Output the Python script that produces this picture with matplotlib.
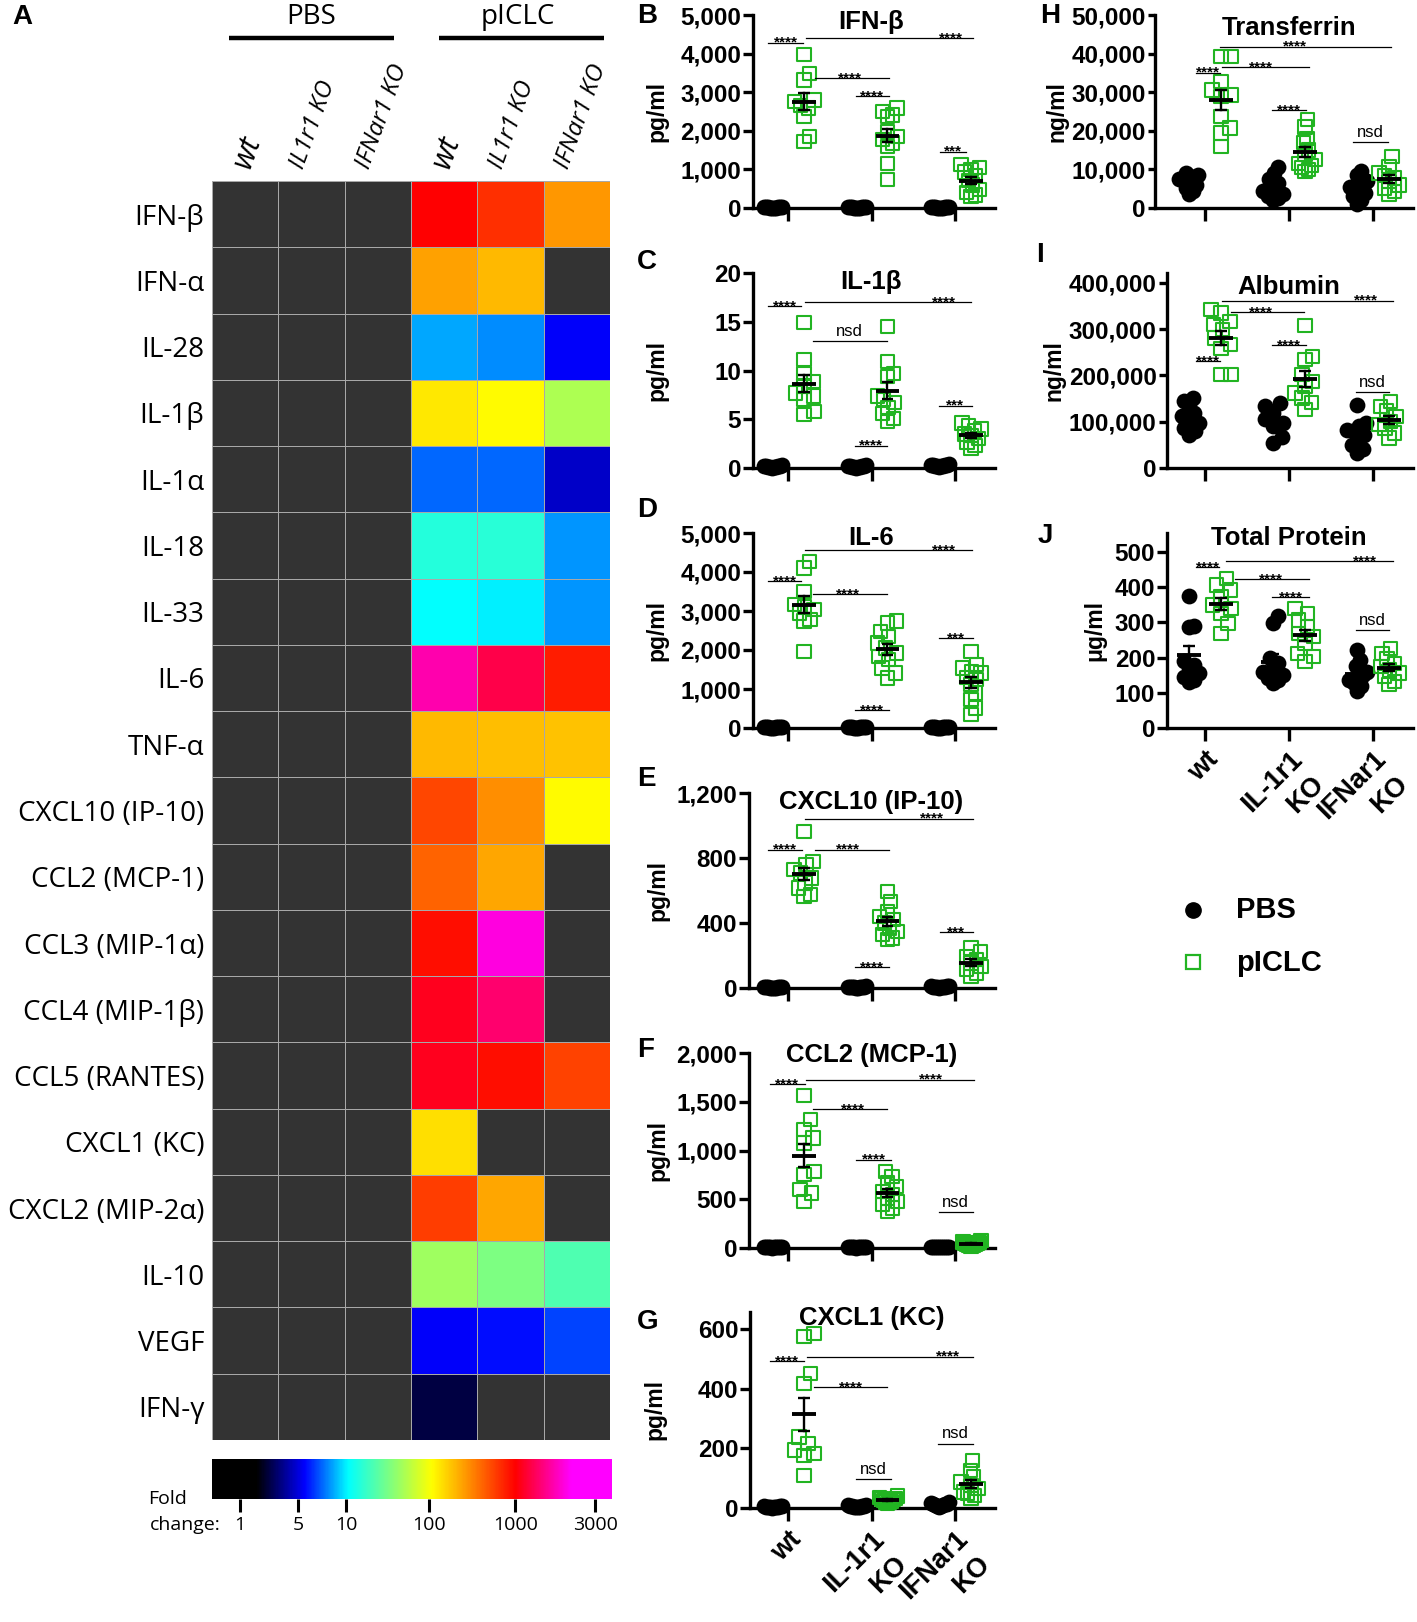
import numpy as np
import matplotlib
matplotlib.use("Agg")
import matplotlib.pyplot as plt
from matplotlib.colors import LinearSegmentedColormap

# ---------------- Panel A: heatmap data (fold change vs PBS) ----------------
cytokines = ['IFN-β', 'IFN-α', 'IL-28', 'IL-1β', 'IL-1α', 'IL-18', 'IL-33', 'IL-6',
             'TNF-α', 'CXCL10 (IP-10)', 'CCL2 (MCP-1)', 'CCL3 (MIP-1α)',
             'CCL4 (MIP-1β)', 'CCL5 (RANTES)', 'CXCL1 (KC)', 'CXCL2 (MIP-2α)',
             'IL-10', 'VEGF', 'IFN-γ']
heat_columns = ['wt', 'IL1r1 KO', 'IFNar1 KO', 'wt', 'IL1r1 KO', 'IFNar1 KO']
heat_groups = ['PBS', 'pICLC']
fold_pbs_wt = [1, 1, 1, 1, 1, 1, 1, 1, 1, 1, 1, 1, 1, 1, 1, 1, 1, 1, 1]
fold_pbs_il1r1 = [1, 1, 1, 1, 1, 1, 1, 1, 1, 1, 1, 1, 1, 1, 1, 1, 1, 1, 1]
fold_pbs_ifnar1 = [1, 1, 1, 1, 1, 1, 1, 1, 1, 1, 1, 1, 1, 1, 1, 1, 1, 1, 1]
fold_piclc_wt = [1000, 250, 8.3, 130, 7.0, 14.3, 10.5, 1690, 200, 540, 420, 910,
                 1090, 1100, 142, 590, 45, 5.45, 2.24]
fold_piclc_il1r1 = [680, 200, 7.8, 110, 7.0, 15.4, 9.9, 1240, 190, 290, 236, 1970,
                    1380, 900, 1, 236, 33.5, 5.7, 1]
fold_piclc_ifnar1 = [270, 1, 5.45, 52, 4.5, 7.9, 7.9, 800, 185, 112, 1, 1,
                     1, 560, 1, 1, 21.7, 6.4, 1]
cbar_ticks = [1, 5, 10, 100, 1000, 3000]
# non-uniform colour scale: log10(fold) -> position along the colour bar
scale_logfold = [0, 0.699, 1, 2, 3, 3.477]
scale_pos = [0.069, 0.215, 0.336, 0.543, 0.758, 0.958]
cmap_stops = [(0.0, '#000000'), (0.11, '#000000'), (0.23, '#0000ff'), (0.34, '#00ffff'),
              (0.55, '#ffff00'), (0.76, '#ff0000'), (0.90, '#ff00ff'), (1.0, '#ff00ff')]

# ---------------- Panels B-J: scatter data ----------------
groups = ['wt', 'IL-1r1\nKO', 'IFNar1\nKO']

ifnb_pbs = [[12, 18, 25, 8, 30, 15, 20, 10, 22, 5], [10, 15, 22, 8, 28, 18, 12, 20, 5, 25],
            [15, 20, 10, 25, 8, 18, 12, 30, 22, 5]]
ifnb_piclc = [[3970, 3490, 3320, 2800, 2760, 2650, 2590, 2370, 1850, 1720],
              [2590, 2500, 2410, 2370, 1980, 1850, 1770, 1680, 1600, 1160, 730],
              [1120, 1050, 1000, 930, 850, 720, 600, 480, 400, 340, 300]]

il1b_pbs = [[0.10, 0.20, 0.15, 0.05, 0.25, 0.10, 0.20, 0.30, 0.12, 0.18],
            [0.10, 0.15, 0.22, 0.08, 0.28, 0.18, 0.12, 0.20, 0.05, 0.25],
            [0.20, 0.30, 0.25, 0.35, 0.15, 0.40, 0.22, 0.30, 0.28, 0.18]]
il1b_piclc = [[14.9, 11.1, 9.7, 8.9, 8.4, 7.7, 7.4, 7.0, 5.8, 5.5],
              [14.5, 10.9, 9.7, 9.4, 7.4, 7.0, 6.7, 6.2, 5.6, 5.1, 4.8],
              [4.6, 4.3, 4.0, 3.8, 3.5, 3.3, 3.0, 2.6, 2.3, 2.0]]

il6_pbs = [[10, 20, 15, 30, 25, 12, 18, 22, 8, 28], [12, 25, 18, 30, 10, 22, 15, 28, 20, 8],
           [15, 22, 10, 30, 18, 25, 12, 20, 28, 8]]
il6_piclc = [[4270, 4100, 3500, 3160, 3120, 3030, 2950, 2780, 2740, 1970],
             [2740, 2690, 2480, 2350, 2180, 2050, 1920, 1840, 1750, 1540, 1410, 1280],
             [1970, 1620, 1540, 1450, 1410, 1300, 1240, 1110, 900, 730, 510, 340]]

cxcl10_pbs = [[2, 5, 3, 8, 4, 6, 1, 7, 3, 5], [3, 6, 8, 4, 10, 5, 7, 2, 9, 6],
              [4, 8, 6, 10, 5, 12, 3, 9, 7, 11]]
cxcl10_piclc = [[964, 780, 759, 728, 708, 677, 646, 615, 574, 564],
                [595, 533, 472, 441, 421, 400, 369, 349, 328, 308, 297],
                [246, 226, 195, 174, 154, 133, 113, 92, 72]]

ccl2_pbs = [[5, 10, 8, 15, 12, 6, 9, 14, 7, 11], [6, 12, 9, 15, 8, 11, 7, 14, 10, 5],
            [8, 14, 6, 12, 10, 15, 7, 11, 9, 13]]
ccl2_piclc = [[1562, 1316, 1214, 1128, 1077, 786, 752, 598, 564, 479],
              [786, 735, 667, 632, 581, 547, 513, 479, 444, 410, 376],
              [75, 62, 55, 50, 45, 40, 35, 30, 25, 20]]

cxcl1_pbs = [[2, 5, 3, 8, 4, 6, 1, 7, 3, 5], [3, 6, 8, 4, 10, 5, 7, 2, 9, 6],
             [5, 10, 15, 8, 12, 20, 6, 18, 9, 14]]
cxcl1_piclc = [[585, 574, 451, 418, 238, 216, 194, 182, 177, 110],
               [40, 35, 32, 30, 28, 25, 22, 20, 18, 15],
               [160, 126, 104, 87, 76, 65, 54, 48, 43, 31]]

transferrin_pbs = [[9000, 8500, 8000, 7600, 7200, 6800, 6000, 5200, 4500, 3500],
                   [10500, 9000, 7500, 6500, 5500, 4500, 3500, 3000, 2500, 2200],
                   [9500, 8500, 7000, 6000, 5500, 5000, 4000, 3000, 2000, 1000]]
transferrin_piclc = [[39200, 39200, 32800, 30600, 29300, 28900, 23700, 20700, 19400, 15900],
                     [23000, 21000, 18000, 17000, 15000, 14000, 12500, 11500, 11000, 10500, 10000, 9500],
                     [13400, 10800, 9100, 8500, 7800, 6900, 6000, 5200, 4300, 3500]]

albumin_pbs = [[151000, 144000, 133000, 119000, 112000, 105000, 97000, 86000, 79000, 72000],
               [140000, 133000, 119000, 105000, 97000, 90000, 68000, 55000],
               [137000, 97000, 90000, 83000, 79000, 72000, 61000, 50000, 40000, 32000]]
albumin_piclc = [[342000, 335000, 317000, 310000, 299000, 281000, 267000, 259000, 202000, 202000],
                 [308000, 241000, 234000, 202000, 187000, 177000, 162000, 151000, 141000, 126000],
                 [144000, 133000, 123000, 112000, 101000, 94000, 86000, 76000, 65000]]

protein_pbs = [[375, 290, 288, 189, 179, 170, 156, 146, 137, 132],
               [318, 297, 198, 184, 170, 160, 151, 142, 137, 127],
               [222, 193, 175, 160, 151, 142, 137, 127, 118, 104]]
protein_piclc = [[425, 406, 392, 373, 349, 340, 325, 297, 269],
                 [340, 325, 307, 288, 269, 259, 241, 212, 203, 189],
                 [226, 212, 198, 184, 175, 165, 156, 146, 132, 123]]

# significance annotations: (x_start, x_end, y, label, label_x or None=centre)
ifnb_sig = [(-0.24, 0.18, 4280, '****', None), (0.22, 2.21, 4400, '****', 1.95),
            (0.32, 1.21, 3360, '****', 0.74), (0.81, 1.21, 2900, '****', None),
            (1.82, 2.13, 1460, '***', None)]
il1b_sig = [(-0.24, 0.16, 16.6, '****', None), (0.20, 2.19, 17.0, '****', 1.87),
            (0.30, 1.19, 13.0, 'nsd', 0.74), (0.80, 1.19, 2.3, '****', None),
            (1.81, 2.20, 6.4, '***', None)]
il6_sig = [(-0.24, 0.16, 3760, '****', None), (0.20, 2.20, 4560, '****', 1.87),
           (0.30, 1.19, 3440, '****', 0.72), (0.80, 1.21, 450, '****', None),
           (1.81, 2.21, 2310, '***', None)]
cxcl10_sig = [(-0.24, 0.17, 851, '****', None), (0.20, 2.21, 1042, '****', 1.72),
              (0.32, 1.21, 851, '****', 0.72), (0.80, 1.21, 129, '****', None),
              (1.82, 2.21, 345, '***', None)]
ccl2_sig = [(-0.22, 0.20, 1682, '****', None), (0.22, 2.23, 1726, '****', 1.71),
            (0.30, 1.19, 1426, '****', 0.78), (0.82, 1.23, 906, '****', None),
            (1.81, 2.21, 366, 'nsd', None)]
cxcl1_sig = [(-0.215, 0.195, 493, '****', None), (0.23, 2.22, 507, '****', 1.91),
             (0.31, 1.19, 406, '****', 0.76), (0.82, 1.23, 96, 'nsd', None),
             (1.80, 2.21, 216, 'nsd', None)]
transferrin_sig = [(-0.11, 0.18, 35100, '****', None), (0.18, 2.22, 41800, '****', 1.07),
                   (0.20, 1.24, 36500, '****', 0.67), (0.80, 1.20, 25400, '****', None),
                   (1.76, 2.18, 17200, 'nsd', None)]
albumin_sig = [(-0.11, 0.18, 230600, '****', None), (0.20, 2.24, 361800, '****', 1.92),
               (0.31, 1.18, 336600, '****', 0.67), (0.80, 1.20, 265200, '****', None),
               (1.80, 2.19, 163600, 'nsd', None)]
protein_sig = [(-0.11, 0.17, 456, '****', None), (0.25, 2.24, 474, '****', 1.90),
               (0.36, 1.24, 422, '****', 0.78), (0.80, 1.24, 371, '****', None),
               (1.80, 2.19, 278, 'nsd', None)]

# ---------------- figure set-up ----------------
W, H = 1417, 1622
plt.rcParams['font.family'] = ['Liberation Sans', 'DejaVu Sans']
fig = plt.figure(figsize=(W / 100, H / 100), dpi=100)
HEAT_FONT = ['Open Sans', 'DejaVu Sans']
GREEN = '#22b422'


def px_rect(x0, y0, x1, y1):
    return [x0 / W, 1 - y1 / H, (x1 - x0) / W, (y1 - y0) / H]


def fold_to_pos(v):
    return np.interp(np.log10(v), scale_logfold, scale_pos)


# overlay axes in pixel coordinates for free text / header lines
ov = fig.add_axes([0, 0, 1, 1])
ov.set_xlim(0, W)
ov.set_ylim(H, 0)
ov.axis('off')

# ---------------- Panel A ----------------
cmap = LinearSegmentedColormap.from_list('fold', cmap_stops)
cmap.set_bad('#333333')
fold = np.array([fold_pbs_wt, fold_pbs_il1r1, fold_pbs_ifnar1,
                 fold_piclc_wt, fold_piclc_il1r1, fold_piclc_ifnar1], float).T
pos = np.ma.masked_where(fold <= 1, fold_to_pos(fold))
axh = fig.add_axes(px_rect(212, 181, 610, 1440))
axh.pcolormesh(pos, cmap=cmap, vmin=0, vmax=1, edgecolors='#a8a8a8', linewidth=0.7)
axh.set_xlim(0, 6)
axh.set_ylim(len(cytokines), 0)
axh.set_yticks(np.arange(len(cytokines)) + 0.5)
axh.set_yticklabels(cytokines, fontfamily=HEAT_FONT, fontsize=20)
axh.set_xticks([])
axh.tick_params(left=False, pad=2)
for s in axh.spines.values():
    s.set_visible(False)
for j, lab in enumerate(heat_columns):
    axh.text(j + (0.45 if lab == 'wt' else 0.28), -0.2, lab, rotation=70, rotation_mode='anchor',
             ha='left', va='center', style='italic', fontsize=22 if lab == 'wt' else 17.5,
             family=HEAT_FONT, clip_on=False)

ov.text(311, 17, heat_groups[0], ha='center', va='center', fontsize=20, family=HEAT_FONT)
ov.text(518, 17, heat_groups[1], ha='center', va='center', fontsize=20, family=HEAT_FONT)
ov.plot([229, 394], [38, 38], color='k', lw=3.2, solid_capstyle='butt')
ov.plot([439, 604], [38, 38], color='k', lw=3.2, solid_capstyle='butt')
ov.text(12, 17, 'A', ha='left', va='center', fontsize=20, fontweight='bold')

# colour bar
axc = fig.add_axes(px_rect(212, 1459, 612, 1499))
axc.imshow(np.linspace(0, 1, 600)[None, :], cmap=cmap, aspect='auto', extent=(0, 1, 0, 1),
           interpolation='bilinear')
axc.set_xlim(0, 1)
axc.set_yticks([])
axc.set_xticks(fold_to_pos(np.array(cbar_ticks, float)))
axc.set_xticklabels([str(t) for t in cbar_ticks], fontfamily=HEAT_FONT, fontsize=14)
axc.tick_params(axis='x', length=9, width=2.2, pad=3)
for s in axc.spines.values():
    s.set_visible(False)
ov.text(168, 1499, 'Fold', ha='center', va='center', fontsize=14, family=HEAT_FONT)
ov.text(221, 1525, 'change:', ha='right', va='center', fontsize=14, family=HEAT_FONT)


# ---------------- scatter panels ----------------
def swarm(vals, px_per_val, diam=12.5, max_half=10.0):
    y = np.asarray(vals, float) * px_per_val
    order = np.argsort(y)
    cands = [0.0]
    for k in np.arange(0.5, 80, 0.5):
        cands += [k, -k]
    placed = []
    offs = np.zeros(len(y))
    for i in order:
        chosen = 0.0
        for c in cands:
            if all((c - px) ** 2 + (y[i] - py) ** 2 >= diam ** 2 for px, py in placed):
                chosen = c
                break
        offs[i] = chosen
        placed.append((chosen, y[i]))
    m = np.abs(offs).max()
    if m > max_half:
        offs *= max_half / m
    return offs


def draw_panel(letter, letter_xy, spine_x, top_y, zero_y, tick0_x, spacing, right_x,
               ymax, yticks, title, title_y, ylabel, ylab_x, pbs, piclc, sigs, xlabels,
               ytick_len=7):
    ax = fig.add_axes(px_rect(spine_x, top_y, right_x, zero_y))
    ax.patch.set_visible(False)
    ax.set_xlim((spine_x - tick0_x) / spacing, (right_x - tick0_x) / spacing)
    ax.set_ylim(0, ymax)
    px_per_val = (zero_y - top_y) / ymax
    for side in ('top', 'right'):
        ax.spines[side].set_visible(False)
    for side in ('left', 'bottom'):
        ax.spines[side].set_linewidth(2.4)
    ax.set_yticks(yticks)
    ax.set_yticklabels([f'{v:,}' for v in yticks], fontsize=17.5, fontweight='bold')
    ax.tick_params(axis='y', length=ytick_len, width=2.4, pad=1.5)
    ax.set_xticks([0, 1, 2])
    ax.tick_params(axis='x', length=9, width=2.4, pad=4)
    if xlabels:
        first = [g.split('\n')[0] for g in groups]
        ax.set_xticklabels(first, rotation=45, ha='right', va='top', rotation_mode='anchor',
                           fontsize=19.5, fontweight='bold')
        for gi, g in enumerate(groups):
            parts = g.split('\n')
            if len(parts) > 1:
                ax.annotate(parts[1], xy=(gi, 0), xycoords=('data', 'axes fraction'),
                            xytext=(16, -31), textcoords='offset points', rotation=45,
                            rotation_mode='anchor', ha='right', va='top', fontsize=19.5,
                            fontweight='bold', annotation_clip=False)
    else:
        ax.set_xticklabels([])
    ax.set_ylabel(ylabel, fontsize=16.5, fontweight='bold', va='center')
    ax.yaxis.set_label_coords((ylab_x - spine_x) / (right_x - spine_x), 0.5)
    ax.text(1, (zero_y - title_y) / px_per_val, title, ha='center', va='center',
            fontsize=18.5, fontweight='bold')
    for g in range(3):
        for k, (vals, dx) in enumerate(((pbs[g], -0.19), (piclc[g], 0.19))):
            v = np.asarray(vals, float)
            xs = g + dx + swarm(v, px_per_val) / spacing
            if k == 0:
                ax.scatter(xs, v, s=130, c='k', marker='o', linewidths=0, zorder=3, clip_on=False)
            else:
                ax.scatter(xs, v, s=92, facecolors='none', edgecolors=GREEN, marker='s',
                           linewidths=1.5, zorder=3, clip_on=False)
            m = v.mean()
            se = v.std(ddof=1) / np.sqrt(len(v))
            xc = g + dx
            ax.plot([xc - 0.14, xc + 0.14], [m, m], color='k', lw=2.8, zorder=5,
                    solid_capstyle='butt', clip_on=False)
            ax.plot([xc, xc], [m - se, m + se], color='k', lw=1.7, zorder=5, clip_on=False)
            for yy in (m - se, m + se):
                ax.plot([xc - 0.07, xc + 0.07], [yy, yy], color='k', lw=1.7, zorder=5,
                        solid_capstyle='butt', clip_on=False)
    for x1, x2, yv, lab, lx in sigs:
        ax.plot([x1, x2], [yv, yv], color='k', lw=0.9, zorder=4, clip_on=False)
        tx = (x1 + x2) / 2 if lx is None else lx
        if lab == 'nsd':
            ax.annotate(lab, (tx, yv), xytext=(0, 1.5), textcoords='offset points',
                        ha='center', va='bottom', fontsize=12)
        else:
            ax.annotate(lab, (tx, yv), xytext=(0, -3), textcoords='offset points',
                        ha='center', va='baseline', fontsize=11, fontweight='bold')
    ov.text(letter_xy[0], letter_xy[1], letter, ha='left', va='center', fontsize=20,
            fontweight='bold')
    return ax


MID_T0, MID_SP, MID_R = 788, 83.5, 995
RGT_T0, RGT_SP, RGT_R = 1205, 84, 1413

draw_panel('B', (637, 16), 753, 15, 208, MID_T0, MID_SP, MID_R, 5000,
           [0, 1000, 2000, 3000, 4000, 5000], 'IFN-β', 22, 'pg/ml', 657,
           ifnb_pbs, ifnb_piclc, ifnb_sig, False)
draw_panel('C', (637, 262), 753, 273, 468, MID_T0, MID_SP, MID_R, 20,
           [0, 5, 10, 15, 20], 'IL-1β', 282, 'pg/ml', 657,
           il1b_pbs, il1b_piclc, il1b_sig, False)
draw_panel('D', (637, 510), 753, 533, 728, MID_T0, MID_SP, MID_R, 5000,
           [0, 1000, 2000, 3000, 4000, 5000], 'IL-6', 538, 'pg/ml', 657,
           il6_pbs, il6_piclc, il6_sig, False)
draw_panel('E', (637, 779), 749, 793, 988, MID_T0, MID_SP, MID_R, 1200,
           [0, 400, 800, 1200], 'CXCL10 (IP-10)', 802, 'pg/ml', 658,
           cxcl10_pbs, cxcl10_piclc, cxcl10_sig, False)
draw_panel('F', (637, 1050), 749, 1053, 1248, MID_T0, MID_SP, MID_R, 2000,
           [0, 500, 1000, 1500, 2000], 'CCL2 (MCP-1)', 1055, 'pg/ml', 658,
           ccl2_pbs, ccl2_piclc, ccl2_sig, False)
draw_panel('G', (637, 1322), 750, 1312, 1508, MID_T0, MID_SP, MID_R, 657,
           [0, 200, 400, 600], 'CXCL1 (KC)', 1318, 'pg/ml', 655,
           cxcl1_pbs, cxcl1_piclc, cxcl1_sig, True)
draw_panel('H', (1040, 16), 1155, 15, 208, RGT_T0, RGT_SP, RGT_R, 50000,
           [0, 10000, 20000, 30000, 40000, 50000], 'Transferrin', 28, 'ng/ml', 1057,
           transferrin_pbs, transferrin_piclc, transferrin_sig, False, ytick_len=5)
draw_panel('I', (1036, 255), 1167, 273, 468, RGT_T0, RGT_SP, RGT_R, 421600,
           [0, 100000, 200000, 300000, 400000], 'Albumin', 287, 'ng/ml', 1054,
           albumin_pbs, albumin_piclc, albumin_sig, False, ytick_len=6)
draw_panel('J', (1038, 536), 1167, 533, 728, RGT_T0, RGT_SP, RGT_R, 554,
           [0, 100, 200, 300, 400, 500], 'Total Protein', 538, 'μg/ml', 1095,
           protein_pbs, protein_piclc, protein_sig, True)

# legend
ov.plot([1193], [910], 'o', ms=11, color='k')
ov.plot([1193], [962], 's', ms=9.5, mfc='none', mec=GREEN, mew=1.6)
ov.text(1236, 910, 'PBS', ha='left', va='center', fontsize=21, fontweight='bold')
ov.text(1236, 963, 'pICLC', ha='left', va='center', fontsize=21, fontweight='bold')

fig.savefig('out.png', dpi=100)
